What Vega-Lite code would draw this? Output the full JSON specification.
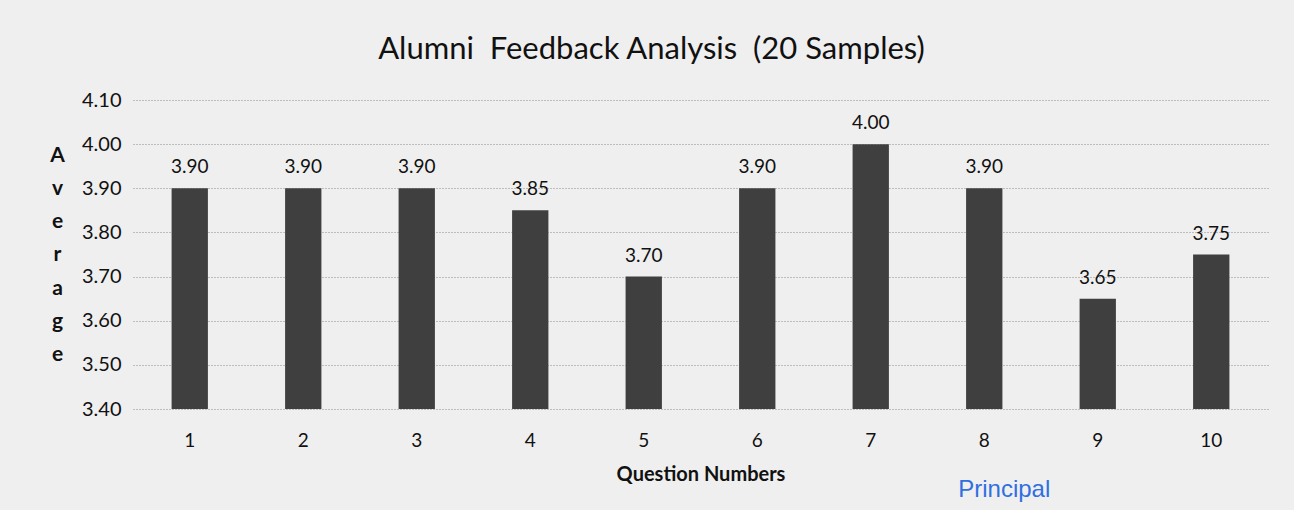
{
  "$schema": "https://vega.github.io/schema/vega-lite/v6.json",
  "width": 1135,
  "height": 309,
  "autosize": {"type": "none"},
  "padding": {"left": 133, "top": 100, "right": 26, "bottom": 101},
  "background": "#efefef",
  "config": {"view": {"stroke": null}, "font": "Lato"},
  "title": {
    "text": "Alumni\u00a0\u00a0Feedback Analysis\u00a0\u00a0(20 Samples)",
    "fontSize": 31,
    "fontWeight": "normal",
    "font": "Lato",
    "color": "#111111",
    "anchor": "middle",
    "dx": -49,
    "offset": 24
  },
  "datasets": {
    "scores": [
      {"question": "1", "average": 3.90},
      {"question": "2", "average": 3.90},
      {"question": "3", "average": 3.90},
      {"question": "4", "average": 3.85},
      {"question": "5", "average": 3.70},
      {"question": "6", "average": 3.90},
      {"question": "7", "average": 4.00},
      {"question": "8", "average": 3.90},
      {"question": "9", "average": 3.65},
      {"question": "10", "average": 3.75}
    ],
    "sign": [
      {"question": "8", "average": 3.216, "label": "Principal"}
    ]
  },
  "encoding": {
    "x": {
      "field": "question",
      "type": "ordinal",
      "sort": null,
      "scale": {"paddingInner": 0.68, "paddingOuter": 0.34},
      "axis": {
        "title": "Question Numbers",
        "titleFontSize": 20,
        "titleFontWeight": "bold",
        "titleColor": "#111111",
        "titlePadding": 14,
        "labelAngle": 0,
        "labelFontSize": 19,
        "labelColor": "#111111",
        "labelPadding": 22,
        "ticks": false,
        "domain": false
      }
    },
    "y": {
      "field": "average",
      "type": "quantitative",
      "scale": {"domain": [3.4, 4.1], "zero": false, "nice": false},
      "axis": {
        "values": [3.4, 3.5, 3.6, 3.7, 3.8, 3.9, 4.0, 4.1],
        "format": ".2f",
        "labelFontSize": 20,
        "labelColor": "#111111",
        "labelPadding": 12,
        "ticks": false,
        "domain": false,
        "grid": true,
        "gridColor": "#8a8a8a",
        "gridDash": [1, 2],
        "gridWidth": 1,
        "title": ["A", "v", "e", "r", "a", "g", "e"],
        "titleAngle": 0,
        "titleFontSize": 21,
        "titleFontWeight": "bold",
        "titleColor": "#111111",
        "titleAlign": "center",
        "titleBaseline": "top",
        "titleLineHeight": 33.3,
        "titleX": -76,
        "titleY": 44
      }
    }
  },
  "layer": [
    {
      "data": {"name": "scores"},
      "mark": {"type": "bar", "color": "#3f3f3f"},
      "encoding": {"y2": {"datum": 3.4}}
    },
    {
      "data": {"name": "scores"},
      "mark": {"type": "text", "dy": -21, "fontSize": 19, "color": "#111111"},
      "encoding": {"text": {"field": "average", "type": "quantitative", "format": ".2f"}}
    },
    {
      "data": {"name": "sign"},
      "mark": {"type": "text", "dx": 20, "fontSize": 24, "font": "Liberation Sans", "color": "#2f6fe0"},
      "encoding": {"text": {"field": "label", "type": "nominal"}}
    }
  ]
}
